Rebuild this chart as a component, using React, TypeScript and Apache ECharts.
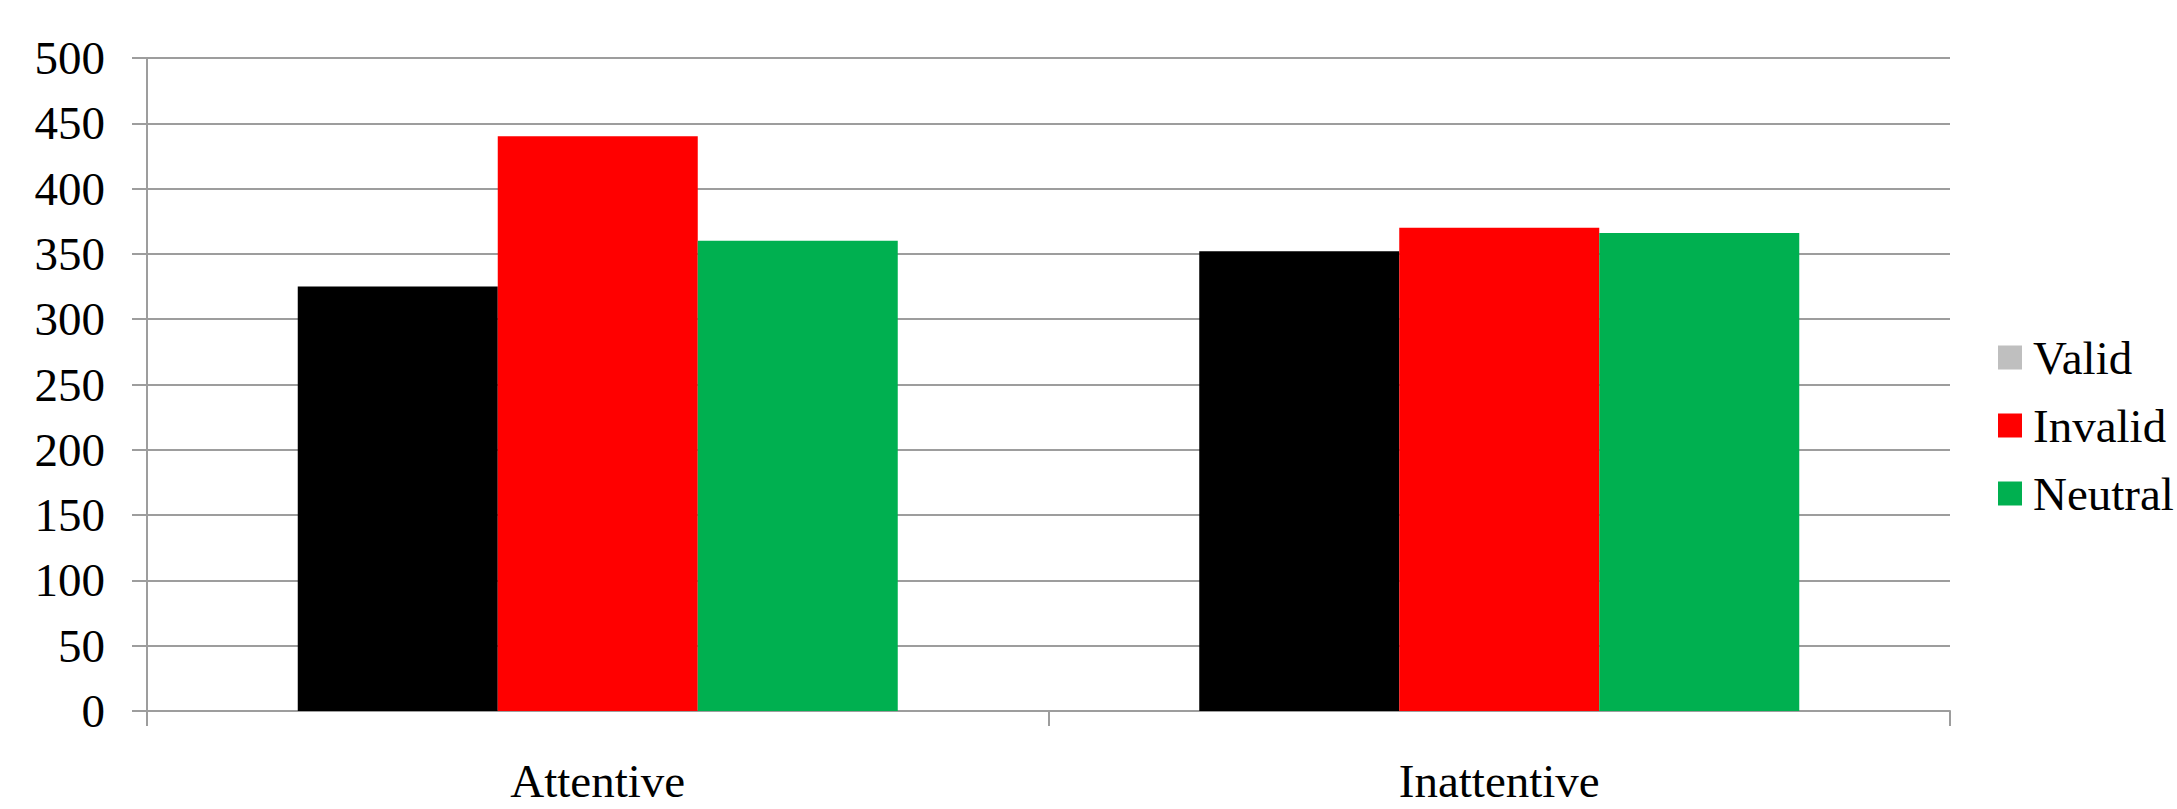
import React, { useEffect, useRef } from "react";
import * as echarts from "echarts";

// Reaction times by attention group and cue condition
const categories = ["Attentive", "Inattentive"];
const seriesNames = ["Valid", "Invalid", "Neutral"];
const validValues = [325, 352];
const invalidValues = [440, 370];
const neutralValues = [360, 366];
const yTicks = { min: 0, max: 500, interval: 50 };

const FONT = "'Liberation Serif', 'Times New Roman', serif";
const AXIS_GRAY = "#9d9d9d";

export default function App() {
  const ref = useRef<HTMLDivElement>(null);

  useEffect(() => {
    document.body.style.margin = "0";
    if (!ref.current) return;
    const chart = echarts.init(ref.current, undefined, { renderer: "svg" });

    const barBase = {
      type: "bar" as const,
      barWidth: 200,
      barGap: "0%",
      silent: true,
    };

    chart.setOption({
      animation: false,
      grid: { left: 147, right: 227, top: 58, bottom: 98, containLabel: false },
      legend: {
        orient: "vertical",
        left: 1998,
        top: 334,
        padding: 0,
        itemWidth: 24,
        itemHeight: 24,
        itemGap: 21,
        icon: "rect",
        selectedMode: false,
        textStyle: {
          fontFamily: FONT,
          fontSize: 47,
          color: "#000",
          lineHeight: 47,
          padding: [0, 0, 0, 6],
        },
        data: [
          { name: seriesNames[0], itemStyle: { color: "#BFBFBF" } },
          { name: seriesNames[1], itemStyle: { color: "#FF0000" } },
          { name: seriesNames[2], itemStyle: { color: "#00B050" } },
        ],
      },
      xAxis: {
        type: "category",
        data: categories,
        axisLine: { show: true, lineStyle: { color: AXIS_GRAY, width: 2 } },
        axisTick: {
          show: true,
          alignWithLabel: false,
          length: 15,
          lineStyle: { color: AXIS_GRAY, width: 2 },
        },
        axisLabel: {
          fontFamily: FONT,
          fontSize: 47,
          color: "#000",
          margin: 46,
        },
      },
      yAxis: {
        type: "value",
        min: yTicks.min,
        max: yTicks.max,
        interval: yTicks.interval,
        axisLine: { show: true, lineStyle: { color: AXIS_GRAY, width: 2 } },
        axisTick: {
          show: true,
          length: 15,
          lineStyle: { color: AXIS_GRAY, width: 2 },
        },
        splitLine: { show: true, lineStyle: { color: AXIS_GRAY, width: 2 } },
        axisLabel: {
          fontFamily: FONT,
          fontSize: 47,
          color: "#000",
          margin: 42,
        },
      },
      series: [
        { ...barBase, name: seriesNames[0], data: validValues, itemStyle: { color: "#000000" } },
        { ...barBase, name: seriesNames[1], data: invalidValues, itemStyle: { color: "#FF0000" } },
        { ...barBase, name: seriesNames[2], data: neutralValues, itemStyle: { color: "#00B050" } },
      ],
    });

    return () => chart.dispose();
  }, []);

  return <div ref={ref} style={{ width: 2177, height: 809 }} />;
}
